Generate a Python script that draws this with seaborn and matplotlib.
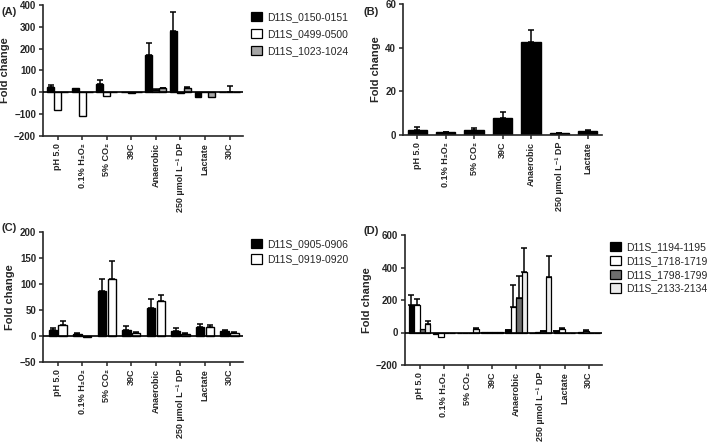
import numpy as np
import pandas as pd
import matplotlib
matplotlib.use('Agg')
import matplotlib.pyplot as plt
import seaborn as sns

nan = np.nan

conditions = ['pH 5.0', '0.1% H₂O₂', '5% CO₂', '39C', 'Anaerobic',
              '250 µmol L⁻¹ DP', 'Lactate', '30C']

# Panel A
a_genes = ['D11S_0150-0151', 'D11S_0499-0500', 'D11S_1023-1024']
a_0150 = [25, 22, 40, 3, 170, 283, -20, 0]
a_0150_err = [33, nan, 55, nan, 228, 370, nan, nan]
a_0499 = [-83, -108, -17, -4, 12, -2, 2, 3]
a_0499_err = [nan, nan, nan, nan, 15, nan, nan, 28]
a_1023 = [2, 0, 3, 1, 18, 20, -20, 1]
a_1023_err = [nan, nan, nan, nan, 21, 25, nan, nan]

# Panel B (single gene, no 30C)
b_conditions = conditions[:7]
b_vals = [2.5, 1.2, 2.5, 8, 42.5, 1.0, 2.0]
b_err = [3.8, 1.4, 3.2, 10.5, 48, 1.1, 2.4]

# Panel C
c_genes = ['D11S_0905-0906', 'D11S_0919-0920']
c_0905 = [12, 4, 87, 12, 54, 10, 17, 10]
c_0905_err = [15, 5, 110, 20, 71, 16, 23, 11]
c_0919 = [22, -2, 110, 6, 68, 4, 17, 6]
c_0919_err = [28, nan, 145, 8, 78, 5, 22, 7]

# Panel D
d_genes = ['D11S_1194-1195', 'D11S_1718-1719', 'D11S_1798-1799', 'D11S_2133-2134']
d_1194 = [170, -8, 0, 5, 15, -2, 8, 3]
d_1194_err = [232, nan, nan, nan, 18, nan, 10, nan]
d_1718 = [168, -25, 0, 3, 160, 3, 20, 12]
d_1718_err = [208, nan, nan, nan, 290, nan, 30, 16]
d_1798 = [20, -3, 0, 3, 212, 8, -3, 0]
d_1798_err = [nan, nan, nan, nan, 350, 10, nan, nan]
d_2133 = [50, -2, 20, 3, 372, 340, 0, -3]
d_2133_err = [72, nan, 25, nan, 522, 468, nan, nan]

sns.set_style('ticks')
plt.rcParams['font.family'] = ['Liberation Sans', 'DejaVu Sans']
plt.rcParams['axes.linewidth'] = 1.2

W, H = 709, 443
fig = plt.figure(figsize=(W / 100, H / 100), dpi=100)


def px_axes(left, top, right, bottom):
    return fig.add_axes([left / W, 1 - bottom / H, (right - left) / W, (bottom - top) / H])


def long_df(conds, genes, series):
    rows = []
    for g, vals in zip(genes, series):
        for c, v in zip(conds, vals):
            rows.append({'condition': c, 'gene': g, 'value': v})
    return pd.DataFrame(rows)


def add_errors(ax, vals_list, errs_list):
    for cont, vals, errs in zip(ax.containers, vals_list, errs_list):
        for patch, v, e in zip(cont.patches, vals, errs):
            if np.isnan(e):
                continue
            x = patch.get_x() + patch.get_width() / 2
            ax.errorbar(x, v, yerr=[[0], [e - v]], fmt='none', ecolor='black',
                        elinewidth=1.1, capsize=2.2, capthick=1.1, zorder=1)


def style(ax, ylim, yticks, ncat, xlo=-0.6):
    ax.set_ylim(*ylim)
    ax.set_yticks(yticks)
    ax.set_yticklabels([str(t).replace('-', '\u2212') for t in yticks])
    ax.set_xlim(xlo, ncat - 0.45)
    ax.set_xlabel('')
    ax.set_ylabel('Fold change', fontsize=8, fontweight='bold', labelpad=3)
    ax.tick_params(axis='both', length=3, width=1.1, pad=2)
    ax.tick_params(axis='y', labelsize=7)
    ax.tick_params(axis='x', labelsize=6.5, labelrotation=90)
    for lbl in ax.get_xticklabels() + ax.get_yticklabels():
        lbl.set_fontweight('bold')
    if ylim[0] < 0:
        ax.axhline(0, color='black', lw=1.2, zorder=3)
    sns.despine(ax=ax)


def legend(ax, genes, colors, spacing):
    handles = [plt.Rectangle((0, 0), 1, 1, facecolor=c, edgecolor='black', lw=0.9)
               for c in colors]
    ax.legend(handles, genes, loc='upper left', bbox_to_anchor=(1.02, 0.98),
              frameon=False, fontsize=7.5, handlelength=1.0, handleheight=1.0,
              handletextpad=0.5, labelspacing=spacing, borderaxespad=0)


# (A)
ax = px_axes(43, 5, 243, 136)
a_colors = ['black', 'white', '#a6a6a6']
df = long_df(conditions, a_genes, [a_0150, a_0499, a_1023])
sns.barplot(data=df, x='condition', y='value', hue='gene', order=conditions,
            hue_order=a_genes, palette=a_colors, edgecolor='black', linewidth=1,
            width=0.85, errorbar=None, legend=False, ax=ax)
add_errors(ax, [a_0150, a_0499, a_1023], [a_0150_err, a_0499_err, a_1023_err])
style(ax, (-200, 400), [-200, -100, 0, 100, 200, 300, 400], 8)
legend(ax, a_genes, a_colors, 0.65)

# (B)
ax = px_axes(403, 4, 602, 135)
df = pd.DataFrame({'condition': b_conditions, 'value': b_vals})
sns.barplot(data=df, x='condition', y='value', order=b_conditions, color='black',
            edgecolor='black', linewidth=1, width=0.68, errorbar=None, ax=ax)
add_errors(ax, [b_vals], [b_err])
style(ax, (0, 60), [0, 20, 40, 60], 7, xlo=-0.5)
ax.set_xlim(-0.5, 6.5)

# (C)
ax = px_axes(43, 232, 243, 362)
c_colors = ['black', 'white']
df = long_df(conditions, c_genes, [c_0905, c_0919])
sns.barplot(data=df, x='condition', y='value', hue='gene', order=conditions,
            hue_order=c_genes, palette=c_colors, edgecolor='black', linewidth=1,
            width=0.8, gap=0.15, errorbar=None, legend=False, ax=ax)
add_errors(ax, [c_0905, c_0919], [c_0905_err, c_0919_err])
style(ax, (-50, 200), [-50, 0, 50, 100, 150, 200], 8)
legend(ax, c_genes, c_colors, 0.5)

# (D)
ax = px_axes(405, 235, 602, 365)
d_colors = ['black', 'white', '#6e6e6e', '#ececec']
df = long_df(conditions, d_genes, [d_1194, d_1718, d_1798, d_2133])
sns.barplot(data=df, x='condition', y='value', hue='gene', order=conditions,
            hue_order=d_genes, palette=d_colors, edgecolor='black', linewidth=0.9,
            width=0.9, errorbar=None, legend=False, ax=ax)
add_errors(ax, [d_1194, d_1718, d_1798, d_2133],
           [d_1194_err, d_1718_err, d_1798_err, d_2133_err])
style(ax, (-200, 600), [-200, 0, 200, 400, 600], 8)
legend(ax, d_genes, d_colors, 0.35)

for lab, x, y in [('(A)', 2, 12), ('(B)', 363, 12), ('(C)', 2, 228), ('(D)', 363, 231)]:
    fig.text(x / W, 1 - y / H, lab, fontsize=8, fontweight='bold', va='center')

fig.savefig('out.png', dpi=100)
